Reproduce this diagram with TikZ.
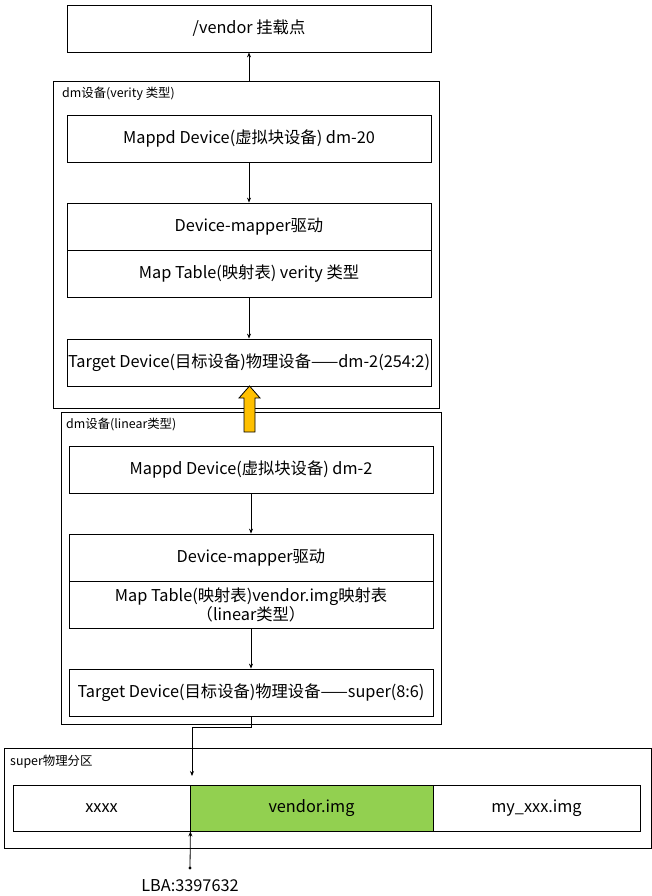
\documentclass[tikz,border=0pt]{standalone}
\usepackage{fontspec}
\setmainfont{Noto Sans CJK SC}
\usetikzlibrary{arrows.meta,calc}
\begin{document}
\begin{tikzpicture}[x=1pt,y=-1pt,
  box/.style={draw=black,line width=0.8pt,rectangle,minimum width=364pt,minimum height=47pt,inner sep=0pt,align=center,font=\fontsize{16.3}{19}\selectfont},
  outer/.style={draw=black,line width=0.8pt,rectangle,inner sep=0pt},
  lbl/.style={anchor=west,inner sep=0pt,font=\fontsize{12.4}{14}\selectfont},
  cell/.style={draw=black,line width=0.8pt,rectangle,minimum height=46pt,inner sep=0pt,font=\fontsize{16.3}{19}\selectfont},
  arr/.style={line width=0.8pt,-{Stealth[length=5pt,width=4pt]}}
]
\useasboundingbox (0,0) rectangle (652,896);
% top
\node[box] (top) at (249,28.5) {/vendor 挂载点};
% verity outer
\node[outer,minimum width=386pt,minimum height=327pt] (vout) at (246,244.5) {};
\node[lbl] (vlbl) at (62,94) {dm设备(verity 类型)};
\node[box] (m1) at (249,138.5) {Mappd Device(虚拟块设备) dm-20};
\node[box] (dm1) at (249,226.5) {Device-mapper驱动};
\node[box] (mt1) at (249,273.5) {Map Table(映射表) verity 类型};
\node[box] (t1) at (249,362.5) {Target Device(目标设备)物理设备——dm-2(254:2)};
\draw[arr] (m1.south) -- (dm1.north);
\draw[arr] (mt1.south) -- (t1.north);
\draw[arr] (vout.north -| top.south) -- (top.south);
% linear outer
\node[outer,minimum width=380pt,minimum height=312pt] (lout) at (251,568) {};
\node[lbl] (llbl) at (66,424) {dm设备(linear类型)};
\node[box] (m2) at (251,469.5) {Mappd Device(虚拟块设备) dm-2};
\node[box] (dm2) at (251,557.5) {Device-mapper驱动};
\node[box] (mt2) at (251,604.5) {Map Table(映射表)vendor.img映射表\\（linear类型）};
\node[box] (t2) at (251,692.5) {Target Device(目标设备)物理设备——super(8:6)};
\draw[arr] (m2.south) -- (dm2.north);
\draw[arr] (mt2.south) -- (t2.north);
% yellow arrow
\draw[line width=0.8pt,fill={rgb,255:red,255;green,192;blue,0}]
  (244,432) -- (244,398) -- (239,398) -- (249.5,386) -- (260,398) -- (255,398) -- (255,432) -- cycle;
% super partition
\node[outer,minimum width=647pt,minimum height=100pt] (sout) at (327.5,798) {};
\node[lbl] (slbl) at (10,762) {super物理分区};
\node[cell,minimum width=177pt] (xx) at (101.5,808) {xxxx};
\node[cell,minimum width=243pt,fill={rgb,255:red,146;green,208;blue,80}] (vimg) at (311.5,808) {vendor.img};
\node[cell,minimum width=207pt] (mimg) at (536.5,808) {my\_xxx.img};
\coordinate (sarrow) at (192,776);
\draw[arr] (t2.south) -- ++(0,11) -| (sarrow);
% LBA
\coordinate (ldot) at (190,868);
\fill (ldot) circle (1.6pt);
\draw[arr] (ldot) -- (xx.south east);
\node[anchor=center,inner sep=0pt,font=\fontsize{16.3}{19}\selectfont] (lba) at (190,886) {LBA:3397632};
\end{tikzpicture}
\end{document}
